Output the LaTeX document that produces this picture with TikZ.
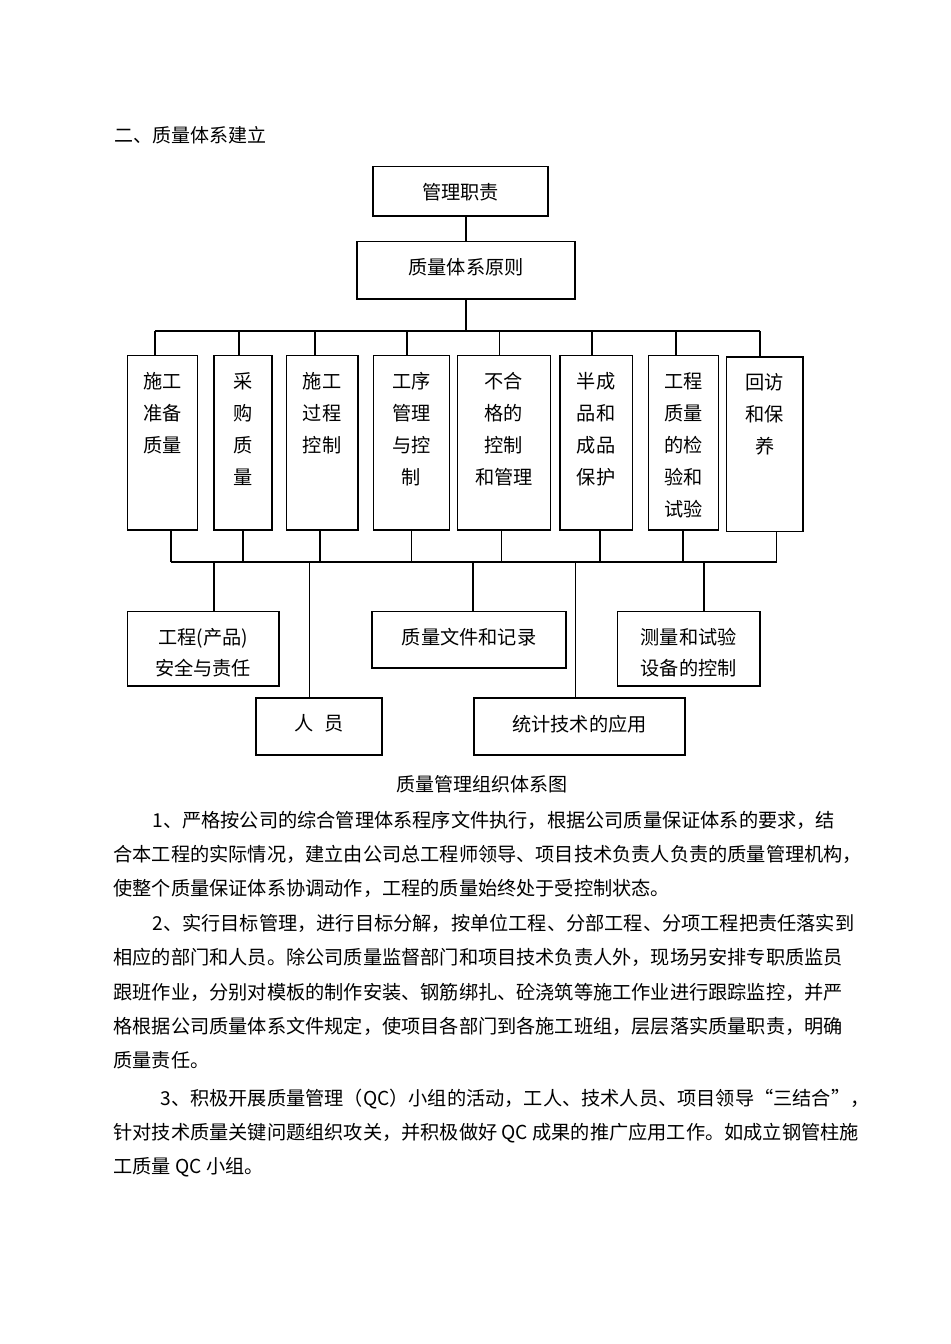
\documentclass[tikz,border=0pt]{standalone}
\usepackage{fontspec}
\setmainfont{Noto Sans CJK SC}
\newcommand\tb[4][16pt]{\parbox[c][#3][t]{#2}{\centering\fontsize{9.6pt}{#1}\selectfont\vspace*{8.4pt}#4\par}}
\tikzset{
  box/.style={draw, line width=0.7pt, inner sep=0pt},
  conn/.style={line width=0.7pt},
  body/.style={anchor=west, inner sep=0pt, font=\fontsize{9.6pt}{12pt}\selectfont}
}
\begin{document}
\begin{tikzpicture}[x=0.5pt, y=-0.5pt]
\useasboundingbox[fill=white] (0,0) rectangle (950,1344);

% heading
\node[body, font=\fontsize{9.5pt}{12pt}\selectfont] (head) at (114,135) {二、质量体系建立};

% top boxes
\node[box] (mgr) at (460.5,191) {\tb{87.5pt}{24.8pt}{管理职责}};
\node[box] (prin) at (466,270.3) {\tb{109pt}{28.6pt}{质量体系原则}};
\draw[conn] (prin.north) -- (prin.north |- mgr.south);

% upper bus
\coordinate (t1) at (155,331);
\coordinate (t2) at (239,331);
\coordinate (t3) at (315,331);
\coordinate (t4) at (407,331);
\coordinate (t5) at (499.5,331);
\coordinate (t6) at (592,331);
\coordinate (t7) at (676,331);
\coordinate (t8) at (760,331);
\draw[conn] (prin.south) -- (prin.south |- t1);
\draw[conn] (t1) -- (t8);

% tall boxes
\node[box] (b1) at (162.4,442.85) {\tb{34.8pt}{87.15pt}{施工\\准备\\质量}};
\node[box] (b2) at (242.85,442.85) {\tb{29.05pt}{87.15pt}{采\\购\\质\\量}};
\node[box] (b3) at (322.1,442.85) {\tb{35.9pt}{87.15pt}{施工\\过程\\控制}};
\node[box] (b4) at (411.3,442.85) {\tb{38pt}{87.15pt}{工序\\管理\\与控\\制}};
\node[box] (b5) at (503.9,442.85) {\tb{46.3pt}{87.15pt}{不合\\格的\\控制\\和管理}};
\node[box] (b6) at (596.1,442.85) {\tb{36.2pt}{87.15pt}{半成\\品和\\成品\\保护}};
\node[box] (b7) at (683.4,442.85) {\tb{35pt}{87.15pt}{工程\\质量\\的检\\验和\\试验}};
\node[box] (b8) at (764.75,444.35) {\tb{38.05pt}{87.35pt}{回访\\和保\\养}};

\foreach \i in {1,...,8} {
  \draw[conn] (t\i) -- (t\i |- b\i.north);
}

% lower bus
\coordinate (d1) at (171,562);
\coordinate (d2) at (243,562);
\coordinate (d3) at (320,562);
\coordinate (d4) at (411.5,562);
\coordinate (d5) at (501.4,562);
\coordinate (d6) at (600,562);
\coordinate (d7) at (683,562);
\coordinate (d8) at (776.5,562);
\foreach \i in {1,...,8} {
  \draw[conn] (b\i.south -| d\i) -- (d\i);
}
\draw[conn] (d1) -- (d8);

% lower boxes
\node[box] (l1) at (203.2,648.85) {\tb[15.5pt]{75.6pt}{37.15pt}{工程(产品)\\安全与责任}};
\node[box] (l2) at (319,726.5) {\tb{63pt}{28.5pt}{人\hspace{0.6em}员}};
\node[box] (l3) at (469,639.85) {\tb{97pt}{28.15pt}{质量文件和记录}};
\node[box] (l4) at (579.5,726.5) {\tb{105.5pt}{28.5pt}{统计技术的应用}};
\node[box] (l5) at (688.75,648.85) {\tb[15.5pt]{71.25pt}{37.15pt}{测量和试验\\设备的控制}};

\coordinate (e1) at (213.8,562);
\coordinate (e2) at (309.7,562);
\coordinate (e3) at (473,562);
\coordinate (e4) at (575.6,562);
\coordinate (e5) at (704,562);
\foreach \i in {1,...,5} {
  \draw[conn] (e\i) -- (e\i |- l\i.north);
}

% caption
\node[inner sep=0pt, font=\fontsize{9.5pt}{12pt}\selectfont] (cap) at (482,784) {质量管理组织体系图};

% body text
\node[body] (p1) at (152,820) {1、严格按公司的综合管理体系程序文件执行，根据公司质量保证体系的要求，结};
\node[body] (p2) at (113,854) {合本工程的实际情况，建立由公司总工程师领导、项目技术负责人负责的质量管理机构，};
\node[body] (p3) at (113,888) {使整个质量保证体系协调动作，工程的质量始终处于受控制状态。};
\node[body] (p4) at (152,923) {2、实行目标管理，进行目标分解，按单位工程、分部工程、分项工程把责任落实到};
\node[body] (p5) at (113,957) {相应的部门和人员。除公司质量监督部门和项目技术负责人外，现场另安排专职质监员};
\node[body] (p6) at (113,992) {跟班作业，分别对模板的制作安装、钢筋绑扎、砼浇筑等施工作业进行跟踪监控，并严};
\node[body] (p7) at (113,1026) {格根据公司质量体系文件规定，使项目各部门到各施工班组，层层落实质量职责，明确};
\node[body] (p8) at (113,1060) {质量责任。};
\node[body] (p9) at (160,1099) {3、积极开展质量管理（QC）小组的活动，工人、技术人员、项目领导“三结合”，};
\node[body] (p10) at (113,1133) {针对技术质量关键问题组织攻关，并积极做好 QC 成果的推广应用工作。如成立钢管柱施};
\node[body] (p11) at (113,1167) {工质量 QC 小组。};
\end{tikzpicture}
\end{document}
